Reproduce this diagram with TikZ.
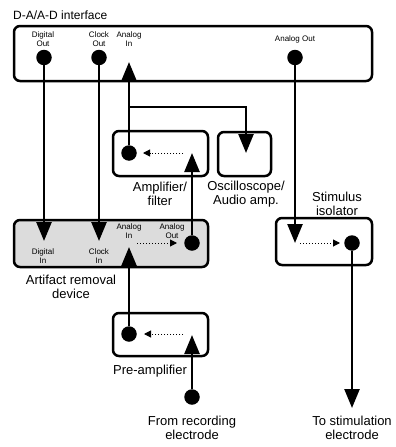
\documentclass[tikz,border=0pt]{standalone}
\usepackage{fontspec}
\setmainfont{Liberation Sans}
\usetikzlibrary{arrows.meta}
\definecolor{artgray}{RGB}{220,220,220}
\tikzset{
  box/.style={draw, line width=2.5pt, rounded corners=6pt, inner sep=0pt},
  dot/.style={circle, fill=black, inner sep=0pt, minimum size=15.5pt},
  arr/.style={line width=2.5pt, -{Triangle[length=19pt,width=15pt]}},
  darr/.style={line width=1pt, dotted, -{Triangle[length=7pt,width=7pt]}},
  small/.style={font=\fontsize{8pt}{9pt}\selectfont, align=center, inner sep=0pt},
  big/.style={font=\fontsize{13pt}{14pt}\selectfont, align=center, inner sep=0pt},
}
\begin{document}
\begin{tikzpicture}[x=1pt,y=-1pt]
\useasboundingbox (0,0) rectangle (396,447);

% boxes
\node[box, minimum width=358pt, minimum height=55pt] (iface) at (193,53.5) {};
\node[box, minimum width=95pt, minimum height=45pt] (amp) at (160.5,153.5) {};
\node[box, minimum width=53pt, minimum height=44pt] (osc) at (244.5,154) {};
\node[box, fill=artgray, minimum width=194pt, minimum height=47pt] (art) at (111,243.5) {};
\node[box, minimum width=96pt, minimum height=47pt] (stim) at (324,241.5) {};
\node[box, minimum width=95pt, minimum height=43pt] (pre) at (160.5,334.5) {};

% titles
\node[font=\fontsize{12pt}{14pt}\selectfont, anchor=west, inner sep=0pt] (tIface) at (13,15) {D-A/A-D interface};
\node[big] (tAmp) at (160,194) {Amplifier/\\filter};
\node[big] (tOsc) at (246,194) {Oscilloscope/\\Audio amp.};
\node[big] (tStim) at (337,204) {Stimulus\\isolator};
\node[big] (tArt) at (71,287) {Artifact removal\\device};
\node[big] (tPre) at (150,371) {Pre-amplifier};
\node[big] (tRec) at (192,428) {From recording\\electrode};
\node[big] (tTo) at (352,428) {To stimulation\\electrode};

% small port labels
\node[small] (lDO) at (43,39) {Digital\\Out};
\node[small] (lCO) at (99,39) {Clock\\Out};
\node[small] (lAI) at (129,39) {Analog\\In};
\node[small] (lAO) at (295,39.5) {Analog Out};
\node[small] (lDI) at (43,256.5) {Digital\\In};
\node[small] (lCI) at (99,256.5) {Clock\\In};
\node[small] (lAAI) at (129,231) {Analog\\In};
\node[small] (lAAO) at (172,231) {Analog\\Out};

% dots
\node[dot] (dOut) at (44,57.5) {};
\node[dot] (cOut) at (99,57.5) {};
\node[dot] (aOut) at (295,57.5) {};
\node[dot] (ampDot) at (129,153) {};
\node[dot] (artDot) at (192,243) {};
\node[dot] (stimDot) at (352,243) {};
\node[dot] (preDot) at (129,334) {};
\node[dot] (recDot) at (192,397) {};

% coordinates
\coordinate (aInTip) at (129,62);
\coordinate (brA) at (129,107);
\coordinate (brB) at (246,107);
\coordinate (oscTip) at (246,153);
\coordinate (ampTip) at (192,153);
\coordinate (dInTip) at (44,241);
\coordinate (cInTip) at (99,241);
\coordinate (artInTip) at (129,247);
\coordinate (stimTip) at (295,243);
\coordinate (outTip) at (352,408);
\coordinate (preTip) at (192,335);
\coordinate (ampD1) at (183,153);
\coordinate (ampD2) at (143,153);
\coordinate (preD1) at (183,334);
\coordinate (preD2) at (144,334);
\coordinate (artD1) at (137,243);
\coordinate (artD2) at (177,243);
\coordinate (stimD1) at (300,243);
\coordinate (stimD2) at (340,243);

% connectors
\draw[arr] (dOut) -- (dInTip);
\draw[arr] (cOut) -- (cInTip);
\draw[arr] (ampDot) -- (aInTip);
\draw[arr] (brA) -- (brB) -- (oscTip);
\draw[arr] (artDot) -- (ampTip);
\draw[arr] (aOut) -- (stimTip);
\draw[arr] (stimDot) -- (outTip);
\draw[arr] (preDot) -- (artInTip);
\draw[arr] (recDot) -- (preTip);

% dotted internal arrows
\draw[darr] (ampD1) -- (ampD2);
\draw[darr] (preD1) -- (preD2);
\draw[darr] (artD1) -- (artD2);
\draw[darr] (stimD1) -- (stimD2);
\end{tikzpicture}
\end{document}
